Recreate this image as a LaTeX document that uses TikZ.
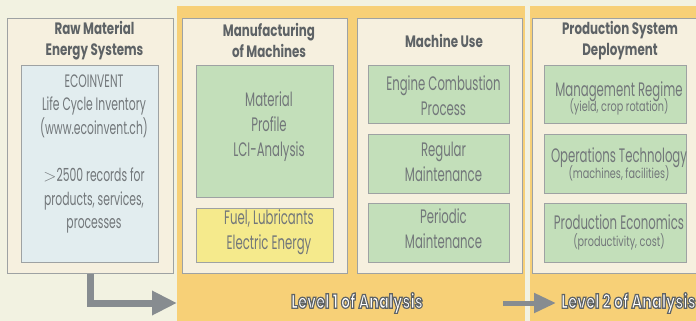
\documentclass[tikz,border=0pt]{standalone}
\usepackage{fontspec}
\setmainfont{Poppins}[FakeStretch=0.6]
\newfontfamily\headfont{Poppins}[FakeStretch=0.72]
\newfontfamily\subfont{Poppins}[FakeStretch=0.7]
\newfontfamily\levelfont{Poppins}[FakeStretch=0.745]
\usetikzlibrary{arrows.meta}
\definecolor{bgc}{HTML}{F2F2E1}
\definecolor{orangec}{HTML}{F7D077}
\definecolor{panelc}{HTML}{F6F0DF}
\definecolor{borderc}{HTML}{9EA2A3}
\definecolor{bluec}{HTML}{E2EDEF}
\definecolor{greenc}{HTML}{C3DFBA}
\definecolor{yellowc}{HTML}{F5EA8C}
\definecolor{arrowc}{HTML}{878C90}
\definecolor{textc}{HTML}{72777A}
\definecolor{headc}{HTML}{5E6366}
\makeatletter
\newcommand\outlinedtext[1]{\pgfsys@invoke{2 Tr 1.2 w 0.37 0.39 0.40 RG}#1\pgfsys@invoke{0 Tr}}
\makeatother
\begin{document}
\begin{tikzpicture}[x=1pt,y=-1pt,
  area/.style={fill=orangec, draw=none, anchor=north west, inner sep=0pt},
  panel/.style={fill=panelc, draw=borderc, line width=0.9pt, anchor=north west, inner sep=0pt},
  box/.style={draw=borderc, line width=0.9pt, anchor=north west, inner sep=0pt},
  txt/.style={text=textc, align=center, inner sep=0pt, font=\fontsize{19.5}{25}\selectfont},
  smalltxt/.style={text=textc, align=center, inner sep=0pt, font=\fontsize{18}{23.5}\selectfont},
  subtxt/.style={text=textc, inner sep=0pt, anchor=base, font=\subfont\fontsize{13.8}{16}\selectfont},
  head/.style={text=headc, align=center, inner sep=0pt, font=\headfont\bfseries\fontsize{16.5}{21}\selectfont},
  leveltxt/.style={text=white, inner sep=0pt, font=\levelfont\bfseries\fontsize{19.5}{22}\selectfont},
  bigarrow/.style={draw=arrowc, line width=7pt, -{Triangle[length=25pt,width=23pt]}},
  smallarrow/.style={draw=arrowc, line width=5pt, -{Triangle[length=22pt,width=19pt]}}
]
\useasboundingbox (0,0) rectangle (696,321);
\fill[bgc] (0,0) rectangle (696,321);
% analysis areas
\node[area, minimum width=348pt, minimum height=320pt] (lvl1) at (177,6) {};
\node[area, minimum width=180pt, minimum height=320pt] (lvl2) at (530,6) {};
% panels
\node[panel, minimum width=166pt, minimum height=255pt] (raw) at (7,18) {};
\node[panel, minimum width=165pt, minimum height=255pt] (manu) at (182,18) {};
\node[panel, minimum width=165pt, minimum height=255pt] (use) at (357,18) {};
\node[panel, minimum width=176pt, minimum height=255pt] (prod) at (532,18) {};
% inner boxes
\node[box, fill=bluec, minimum width=137pt, minimum height=197pt] (eco) at (21,65) {};
\node[box, fill=greenc, minimum width=137pt, minimum height=132pt] (mat) at (196,65) {};
\node[box, fill=yellowc, minimum width=137pt, minimum height=54pt] (fuel) at (196,208) {};
\node[box, fill=greenc, minimum width=141pt, minimum height=58pt] (eng) at (368,65) {};
\node[box, fill=greenc, minimum width=141pt, minimum height=59pt] (reg) at (368,134) {};
\node[box, fill=greenc, minimum width=141pt, minimum height=59pt] (per) at (368,203) {};
\node[box, fill=greenc, minimum width=142pt, minimum height=58pt] (mgmt) at (544,65) {};
\node[box, fill=greenc, minimum width=142pt, minimum height=59pt] (ops) at (544,134) {};
\node[box, fill=greenc, minimum width=142pt, minimum height=59pt] (econ) at (544,203) {};
% headings
\node[head] (rawh) at (94.5,40.5) {Raw Material\\Energy Systems};
\node[head] (manuh) at (269,40.5) {Manufacturing\\of Machines};
\node[head] (useh) at (444,40.5) {Machine Use};
\node[head] (prodh) at (620,40.5) {Production System\\Deployment};
% texts
\node[smalltxt] (ecot) at (94,154) {ECOINVENT\\Life Cycle Inventory\\(www.ecoinvent.ch)\\[24pt]$>$2500 records for\\products, services,\\processes};
\node[txt] (matt) at (269,127) {Material\\Profile\\LCI-Analysis};
\node[txt] (fuelt) at (269,232) {Fuel, Lubricants\\Electric Energy};
\node[txt] (engt) at (443.5,96) {Engine Combustion\\Process};
\node[txt] (regt) at (443.5,162) {Regular\\Maintenance};
\node[txt] (pert) at (443.5,229) {Periodic\\Maintenance};
\node[txt, anchor=base] (mgmta) at (619,96.5) {Management Regime};
\node[subtxt] (mgmtb) at (619,111) {(yield, crop rotation)};
\node[txt, anchor=base] (opsa) at (619,162) {Operations Technology};
\node[subtxt] (opsb) at (619,178) {(machines, facilities)};
\node[txt, anchor=base] (econa) at (619,229.5) {Production Economics};
\node[subtxt] (econb) at (619,246) {(productivity, cost)};
% level labels
\node[leveltxt] (l1t) at (357,303) {\outlinedtext{Level 1 of Analysis}};
\node[leveltxt, anchor=west] (l2t) at (561,303) {\outlinedtext{Level 2 of Analysis}};
% arrows
\coordinate (a1) at (177,303);
\draw[bigarrow] (raw.south) |- (a1);
\coordinate (a2s) at (503,303);
\coordinate (a2e) at (556,303);
\draw[smallarrow] (a2s) -- (a2e);
\end{tikzpicture}
\end{document}
